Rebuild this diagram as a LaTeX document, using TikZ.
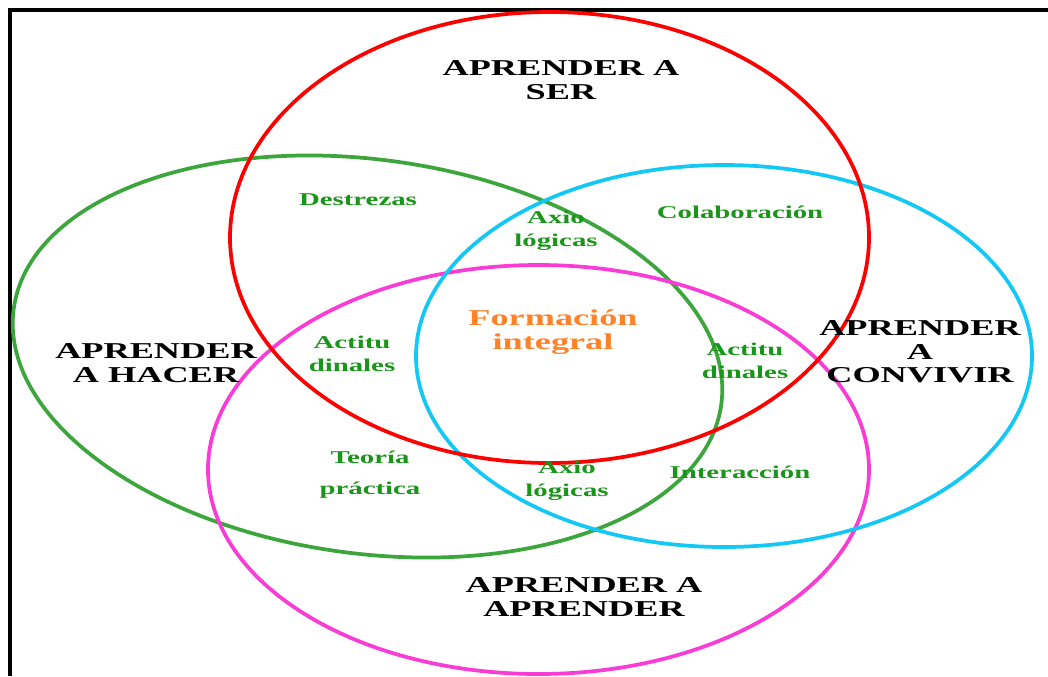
\documentclass[tikz,border=0pt]{standalone}
\usepackage{fontspec}
\newfontfamily\vf[FakeStretch=1.6]{Liberation Serif}
\definecolor{cred}{RGB}{255,0,0}
\definecolor{cgreen}{RGB}{60,165,60}
\definecolor{ccyan}{RGB}{20,200,245}
\definecolor{cmag}{RGB}{250,60,215}
\definecolor{tgreen}{RGB}{25,150,25}
\definecolor{torange}{RGB}{255,130,40}
\tikzset{
  ring/.style={line width=2.8pt},
  big/.style={font=\vf\bfseries\fontsize{17}{17.5}\selectfont, align=center, text=black, inner sep=0pt},
  small/.style={font=\vf\bfseries\fontsize{13.5}{17.5}\selectfont, align=center, text=tgreen, inner sep=0pt},
  core/.style={font=\vf\bfseries\fontsize{17}{18.5}\selectfont, align=center, text=torange, inner sep=0pt}
}
\begin{document}
\begin{tikzpicture}[x=0.75pt,y=0.75pt]
\useasboundingbox (0,0) rectangle (1048,-676);
\fill[white] (0,0) rectangle (1048,-676);
\draw[line width=2.3pt, black] (10,-676) -- (10,-10) -- (1048,-10);
% ellipses
\draw[ring, cgreen, rotate around={-7.7:(367.5,-356.5)}] (367.5,-356.5) ellipse [x radius=357, y radius=197];
\draw[ring, cmag] (538.5,-469.5) ellipse [x radius=330.5, y radius=204.5];
\draw[ring, ccyan] (724,-356) ellipse [x radius=308, y radius=191];
\draw[ring, cred] (549.5,-237.5) ellipse [x radius=319.5, y radius=225.5];
% labels
\node[big] (ser) at (561,-80) {APRENDER A\\SER};
\node[big] (hacer) at (156,-363) {APRENDER\\A HACER};
\node[big] (convivir) at (920,-352) {APRENDER\\A\\CONVIVIR};
\node[big] (aprender) at (584,-597) {APRENDER A\\APRENDER};
\node[small] (destrezas) at (358,-200) {Destrezas};
\node[small] (axio1) at (556,-231) {Axio\\lógicas};
\node[small] (colab) at (740,-212) {Colaboración};
\node[core] (formacion) at (553,-332) {Formación\\integral};
\node[small] (act1) at (352,-354) {Actitu\\dinales};
\node[small] (act2) at (745,-361) {Actitu\\dinales};
\node[small] (teoria) at (370,-457) {Teoría};
\node[small] (practica) at (370,-490) {práctica};
\node[small] (axio2) at (567,-481) {Axio\\lógicas};
\node[small] (inter) at (740,-472) {Interacción};
\end{tikzpicture}
\end{document}
